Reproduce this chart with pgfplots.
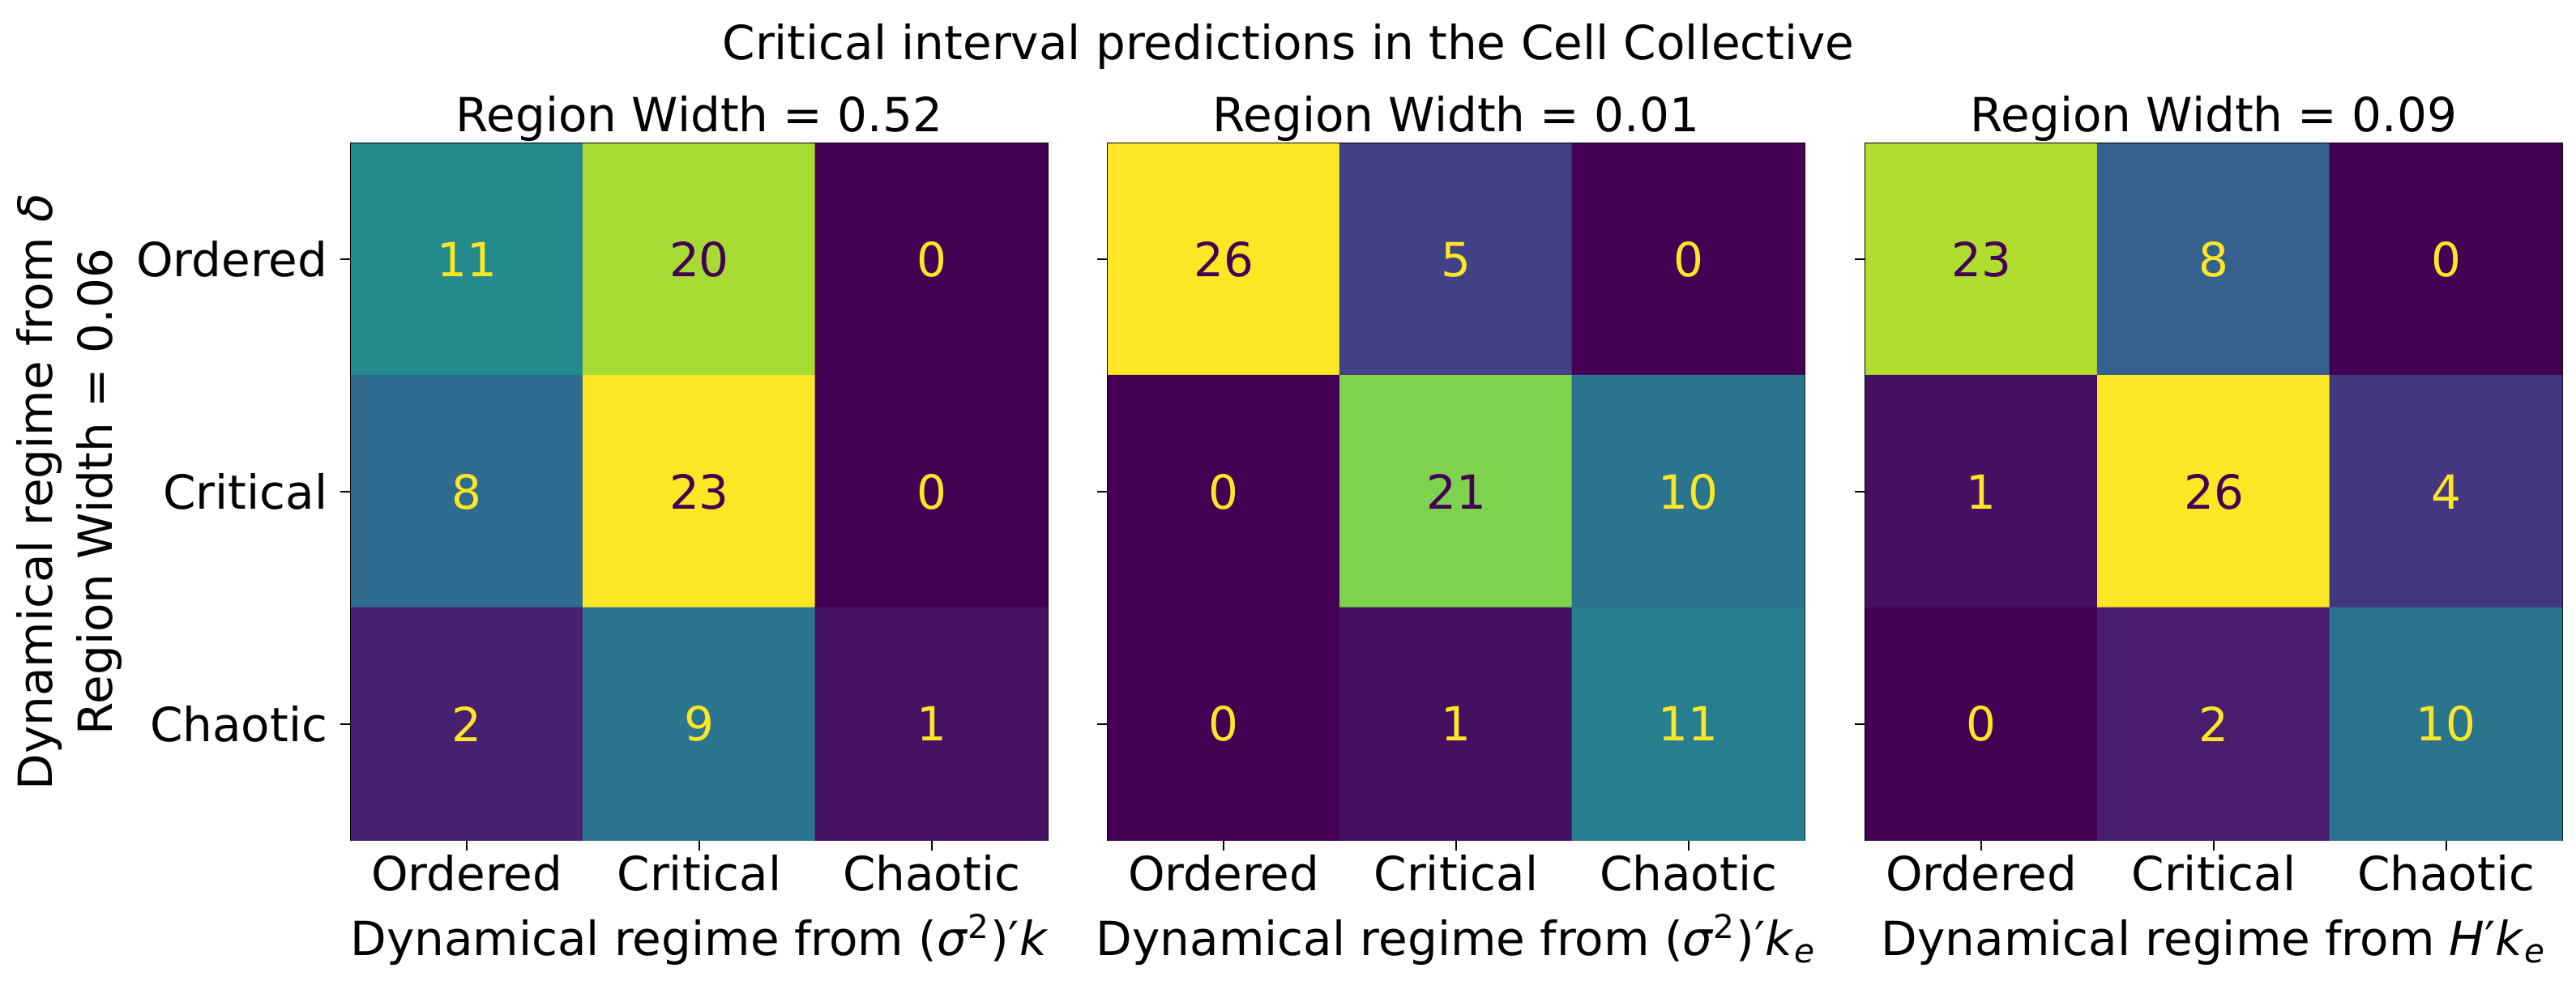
\documentclass[border=0pt]{standalone}
\usepackage{fontspec}
\setmainfont{DejaVu Sans}
\usepackage{pgfplots}
\pgfplotsset{compat=1.18}
\usepackage{pgfplotstable}

\definecolor{vyellow}{RGB}{253,231,37}
\definecolor{vpurple}{RGB}{68,1,84}

% rows: y=0 Ordered, 1 Critical, 2 Chaotic ; cols: x likewise
\pgfplotstableread{
x y c
0 0 11
1 0 20
2 0 0
0 1 8
1 1 23
2 1 0
0 2 2
1 2 9
2 2 1
}\cmA

\pgfplotstableread{
x y c
0 0 26
1 0 5
2 0 0
0 1 0
1 1 21
2 1 10
0 2 0
1 2 1
2 2 11
}\cmB

\pgfplotstableread{
x y c
0 0 23
1 0 8
2 0 0
0 1 1
1 1 26
2 1 4
0 2 0
1 2 2
2 2 10
}\cmC

\pgfplotsset{
  cm/.style={
    width=215pt, height=215pt, scale only axis,
    anchor=south west,
    xmin=-0.5, xmax=2.5, ymin=-0.5, ymax=2.5,
    y dir=reverse,
    colormap/viridis,
    xtick={0,1,2}, ytick={0,1,2},
    xticklabels={Ordered,Critical,Chaotic},
    yticklabels={Ordered,Critical,Chaotic},
    tick pos=left, tick align=outside,
    major tick length=3.2pt,
    every tick/.style={black, line width=0.5pt},
    axis line style={black, line width=0.7pt},
    xticklabel style={anchor=base, yshift=-12.3pt, inner sep=0pt},
    yticklabel style={anchor=east, xshift=-3.8pt, inner sep=0pt},
    every axis title shift=0pt,
    title style={at={(axis description cs:0.5,1.0174)}, anchor=base, inner sep=0pt},
    xlabel style={at={(axis description cs:0.5,-0.1661)}, anchor=base, inner sep=0pt},
  },
  % cell numbers: yellow on dark cells, purple on light cells
  cellnums/.style={
    draw=none, mark=none,
    point meta=explicit symbolic,
    nodes near coords={\color{#1}\pgfplotspointmeta},
    nodes near coords align=center,
  },
}

\begin{document}
\fontsize{14.5}{18.5}\selectfont
\begin{tikzpicture}
\useasboundingbox (0,0) rectangle (794.75pt,303.75pt);

\node[anchor=base, inner sep=0pt] at (397.5pt,285.5pt) {Critical interval predictions in the Cell Collective};

\begin{axis}[cm,
  at={(108.25pt,44.5pt)},
  point meta min=0, point meta max=23,
  title={Region Width = 0.52},
  xlabel={Dynamical regime from (\textit{σ}\textsuperscript{2})′\textit{k}},
  ylabel={Dynamical regime from \textit{δ}\\Region Width = 0.06},
  ylabel style={at={(axis description cs:-0.3275,0.5)}, anchor=south, align=center, inner sep=0pt},
]
\addplot[matrix plot*, mesh/cols=3, point meta=explicit] table[x=x, y=y, meta=c] {\cmA};
\addplot[cellnums=vyellow] coordinates {(0,0)[11] (2,0)[0] (0,1)[8] (2,1)[0] (0,2)[2] (1,2)[9] (2,2)[1]};
\addplot[cellnums=vpurple] coordinates {(1,0)[20] (1,1)[23]};
\end{axis}

\begin{axis}[cm,
  at={(341.75pt,44.5pt)},
  point meta min=0, point meta max=26,
  yticklabels={},
  title={Region Width = 0.01},
  xlabel={Dynamical regime from (\textit{σ}\textsuperscript{2})′\textit{k}\textsubscript{\textit{e}}},
]
\addplot[matrix plot*, mesh/cols=3, point meta=explicit] table[x=x, y=y, meta=c] {\cmB};
\addplot[cellnums=vyellow] coordinates {(1,0)[5] (2,0)[0] (0,1)[0] (2,1)[10] (0,2)[0] (1,2)[1] (2,2)[11]};
\addplot[cellnums=vpurple] coordinates {(0,0)[26] (1,1)[21]};
\end{axis}

\begin{axis}[cm,
  at={(575.5pt,44.5pt)},
  point meta min=0, point meta max=26,
  yticklabels={},
  title={Region Width = 0.09},
  xlabel={Dynamical regime from \textit{H}′\textit{k}\textsubscript{\textit{e}}},
]
\addplot[matrix plot*, mesh/cols=3, point meta=explicit] table[x=x, y=y, meta=c] {\cmC};
\addplot[cellnums=vyellow] coordinates {(1,0)[8] (2,0)[0] (0,1)[1] (2,1)[4] (0,2)[0] (1,2)[2] (2,2)[10]};
\addplot[cellnums=vpurple] coordinates {(0,0)[23] (1,1)[26]};
\end{axis}
\end{tikzpicture}
\end{document}
